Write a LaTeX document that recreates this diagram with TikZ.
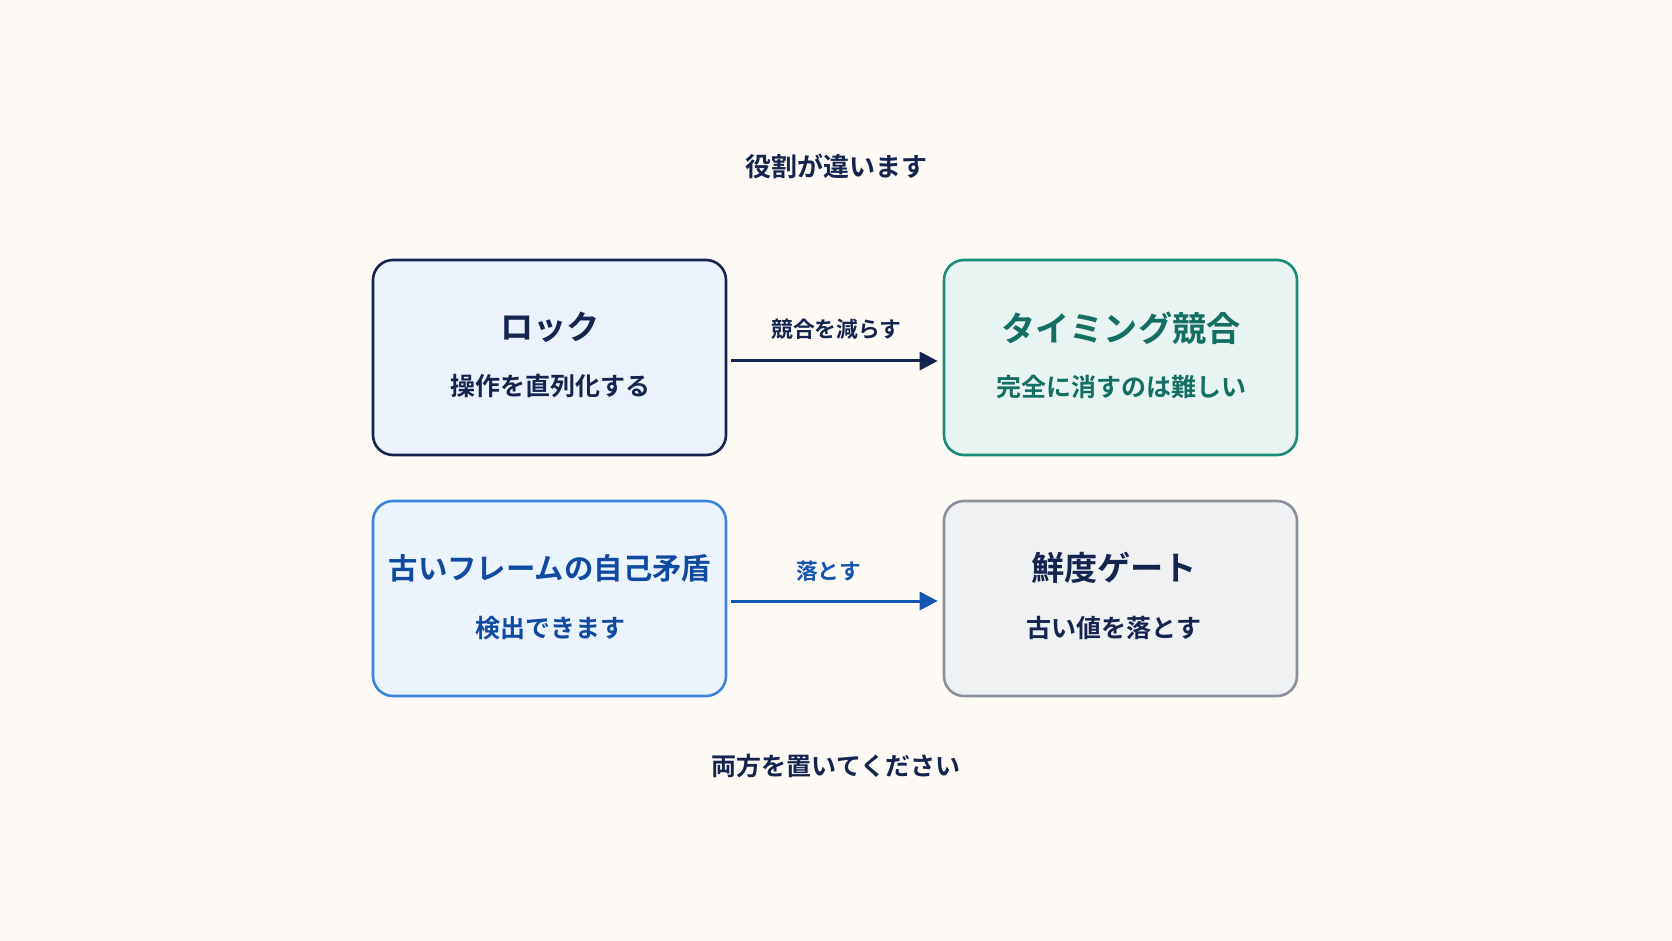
\documentclass[tikz,border=0pt]{standalone}
\usepackage{fontspec}
\newfontfamily\jpb{Noto Sans CJK JP Bold}
\usetikzlibrary{arrows.meta}
\definecolor{bgc}{HTML}{FDFAF5}
\definecolor{navy}{HTML}{15244F}
\definecolor{fillA}{HTML}{EBF2FC}
\definecolor{teal}{HTML}{1B8A78}
\definecolor{fillB}{HTML}{E8F4F2}
\definecolor{tealtext}{HTML}{146E62}
\definecolor{blueb}{HTML}{3D84DB}
\definecolor{fillC}{HTML}{EBF3FD}
\definecolor{bluetext}{HTML}{0F4AA0}
\definecolor{greyb}{HTML}{8A909C}
\definecolor{fillD}{HTML}{F0F1F3}
\definecolor{arrowblue}{HTML}{1556B0}
\begin{document}
\begin{tikzpicture}[x=0.5pt,y=-0.5pt,
  box/.style={draw, line width=1.3pt, rounded corners=10pt, minimum width=176.5pt, minimum height=97.5pt, inner sep=0pt},
  ttl/.style={font=\jpb\fontsize{16.6}{20}\selectfont, inner sep=0pt},
  sub/.style={font=\jpb\fontsize{12.5}{15}\selectfont, inner sep=0pt},
  lbl/.style={font=\jpb\fontsize{10.9}{13}\selectfont, inner sep=0pt},
  arr/.style={line width=1.5pt, -{Triangle[length=9pt,width=9pt]}}]
\fill[bgc] (0,0) rectangle (1672,941);
\useasboundingbox (0,0) rectangle (1672,941);
\node[font=\jpb\fontsize{13}{15}\selectfont, text=navy, inner sep=0pt] (top) at (836,166) {役割が違います};
\node[font=\jpb\fontsize{12.5}{15}\selectfont, text=navy, inner sep=0pt] (bot) at (836,766) {両方を置いてください};
\node[box, draw=navy, fill=fillA] (b1) at (549.5,357.5) {};
\node[box, draw=teal, fill=fillB] (b2) at (1120.5,357.5) {};
\node[box, draw=blueb, fill=fillC] (b3) at (549.5,598.5) {};
\node[box, draw=greyb, fill=fillD] (b4) at (1120.5,598.5) {};
\node[ttl, text=navy] (t1) at (550,327) {ロック};
\node[sub, text=navy] (s1) at (550,386) {操作を直列化する};
\node[ttl, text=tealtext, font=\jpb\fontsize{17.1}{20}\selectfont] (t2) at (1121,328) {タイミング競合};
\node[sub, text=tealtext] (s2) at (1121,387) {完全に消すのは難しい};
\node[ttl, text=bluetext, font=\jpb\fontsize{14.7}{19}\selectfont] (t3) at (550,568) {古いフレームの自己矛盾};
\node[sub, text=bluetext] (s3) at (550,628) {検出できます};
\node[ttl, text=navy] (t4) at (1114,568) {鮮度ゲート};
\node[sub, text=navy] (s4) at (1114,628) {古い値を落とす};
\draw[arr, navy] ([xshift=2pt,yshift=-1.75pt]b1.east) -- ([xshift=-2.5pt,yshift=-1.75pt]b2.west)
  node[lbl, text=navy, midway, above=10pt, xshift=1pt] (l1) {競合を減らす};
\draw[arr, arrowblue] ([xshift=2pt,yshift=-1.25pt]b3.east) -- ([xshift=-2.5pt,yshift=-1.25pt]b4.west)
  node[lbl, text=arrowblue, midway, above=9pt, xshift=-3pt] (l2) {落とす};
\end{tikzpicture}
\end{document}
